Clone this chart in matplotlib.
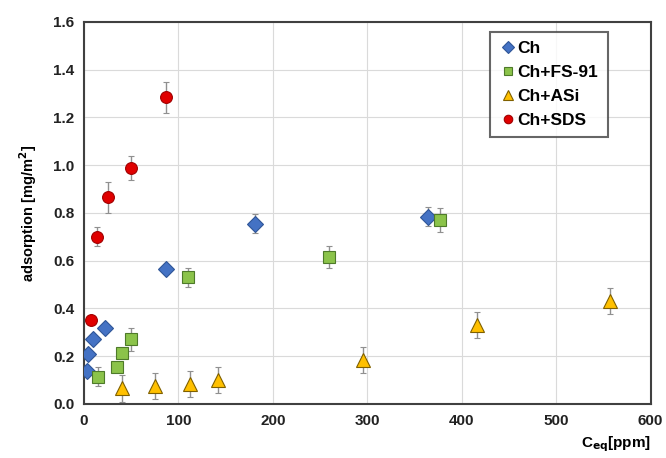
import matplotlib
matplotlib.use("Agg")
import matplotlib.pyplot as plt
from matplotlib.lines import Line2D

plt.rcParams['font.family'] = ['Liberation Sans', 'DejaVu Sans']
plt.rcParams['font.weight'] = 'bold'

# Equilibrium concentration (ppm) and adsorption (mg/m2) per system
ch_x = [3, 4, 10, 22, 87, 181, 364]
ch_y = [0.14, 0.21, 0.27, 0.32, 0.565, 0.755, 0.785]
ch_err = [0.01, 0.01, 0.01, 0.01, 0.02, 0.04, 0.04]

fs_x = [15, 35, 40, 50, 110, 259, 377]
fs_y = [0.115, 0.155, 0.215, 0.27, 0.53, 0.615, 0.77]
fs_err = [0.04, 0.01, 0.01, 0.05, 0.04, 0.045, 0.05]

asi_x = [40, 75, 112, 142, 295, 416, 557]
asi_y = [0.065, 0.075, 0.085, 0.10, 0.185, 0.33, 0.43]
asi_err = [0.055, 0.055, 0.055, 0.055, 0.055, 0.055, 0.055]

sds_x = [7, 14, 26, 50, 87]
sds_y = [0.35, 0.70, 0.865, 0.99, 1.285]
sds_err = [0.01, 0.04, 0.065, 0.05, 0.065]

series = [
    ("Ch", ch_x, ch_y, ch_err, "D", "#4472C4", "#2F5597", 8),
    ("Ch+FS-91", fs_x, fs_y, fs_err, "s", "#8BC34A", "#4E7A2A", 8.5),
    ("Ch+ASi", asi_x, asi_y, asi_err, "^", "#FFC000", "#7F6000", 10.5),
    ("Ch+SDS", sds_x, sds_y, sds_err, "o", "#E00000", "#A00000", 8.5),
]

fig = plt.figure(figsize=(6.66, 4.58), dpi=100)
ax = fig.add_axes([0.126, 0.118, 0.851, 0.834])

handles = []
for label, x, y, e, m, fc, ec, ms in series:
    ax.errorbar(x, y, yerr=e, fmt=m, color=fc, markerfacecolor=fc,
                markeredgecolor=ec, markeredgewidth=0.8, markersize=ms,
                ecolor="#909090", elinewidth=1.0, capsize=2.5, capthick=1.0,
                zorder=3)
    handles.append(Line2D([], [], linestyle="none", marker=m,
                          markerfacecolor=fc, markeredgecolor=ec,
                          markeredgewidth=0.8, markersize=ms * 0.72,
                          label=label))

ax.set_xlim(0, 600)
ax.set_ylim(0, 1.6)
ax.set_xticks(range(0, 601, 100))
ax.set_yticks([i * 0.2 for i in range(9)])
ax.set_yticklabels([f"{i * 0.2:.1f}" for i in range(9)])
ax.grid(True, color="#DADADA", linewidth=0.8, zorder=0)
ax.set_axisbelow(True)
for s in ax.spines.values():
    s.set_color("#404040")
    s.set_linewidth(1.5)
ax.tick_params(length=0, labelsize=11, colors="#222222", pad=7)
for t in ax.get_xticklabels() + ax.get_yticklabels():
    t.set_fontweight('bold')

ax.set_ylabel("adsorption [mg/m$^\\mathbf{2}$]", fontsize=10.5, fontweight='bold',
              labelpad=10)
ax.text(1.0, -0.105, "C$_\\mathbf{eq}$[ppm]", transform=ax.transAxes,
        ha="right", va="center", fontsize=11, fontweight='bold')

leg = ax.legend(handles=handles, loc="upper left",
                bbox_to_anchor=(0.716, 0.975), fontsize=12.5,
                frameon=True, fancybox=False, edgecolor="#404040",
                handletextpad=0.05, handlelength=1.0, borderpad=0.55,
                labelspacing=0.5, borderaxespad=0)
leg.get_frame().set_linewidth(1.5)
for t in leg.get_texts():
    t.set_fontweight('bold')

fig.savefig("out.png", dpi=100)
